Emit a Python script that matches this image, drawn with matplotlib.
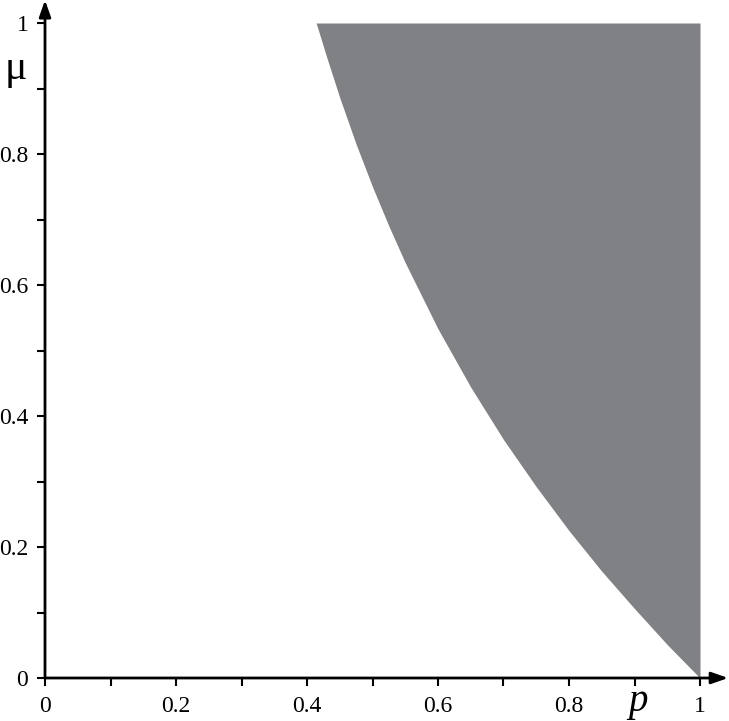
import numpy as np
import matplotlib
matplotlib.use("Agg")
import matplotlib.pyplot as plt

# ==========================================
# DATA (boundary of shaded region)
# ==========================================

p_curve = [0.414, 0.43, 0.45, 0.475, 0.5, 0.525, 0.55, 0.6, 0.65, 0.7,
           0.75, 0.8, 0.85, 0.9, 0.95, 1.0]
mu_curve = [1.0, 0.948, 0.886, 0.815, 0.75, 0.690, 0.634, 0.533, 0.444, 0.364,
            0.292, 0.225, 0.163, 0.106, 0.051, 0.0]

major_ticks = [0, 0.2, 0.4, 0.6, 0.8, 1]
tick_labels = ["0", "0.2", "0.4", "0.6", "0.8", "1"]
minor_ticks = [0.1, 0.3, 0.5, 0.7, 0.9]

shade_color = "#808185"

# ==========================================
# PLOT
# ==========================================

plt.rcParams['font.family'] = ['Liberation Serif', 'DejaVu Serif']

fig = plt.figure(figsize=(7.29, 7.21), dpi=100)
ax = fig.add_axes([45 / 729, 43 / 721, 655 / 729, 655 / 721])

# shaded region right of the curve
ax.fill_betweenx(mu_curve, p_curve, [1.0] * len(p_curve),
                 color=shade_color, linewidth=0)

ax.set_xlim(0, 1)
ax.set_ylim(0, 1)

for s in ax.spines.values():
    s.set_visible(False)

# axes with arrows
arrow = dict(arrowstyle='-|>,head_length=1.0,head_width=0.35',
             color='black', lw=2, shrinkA=0, shrinkB=0)
ax.annotate('', xy=(1.043, 0), xytext=(0, 0), arrowprops=arrow,
            annotation_clip=False)
ax.annotate('', xy=(0, 1.035), xytext=(0, 0), arrowprops=arrow,
            annotation_clip=False)

ax.set_xticks(major_ticks)
ax.set_xticklabels(tick_labels)
ax.set_yticks(major_ticks)
ax.set_yticklabels(tick_labels)
ax.set_xticks(minor_ticks, minor=True)
ax.set_yticks(minor_ticks, minor=True)

ax.tick_params(which='both', direction='out', length=6, width=1.5,
               labelsize=17)
ax.tick_params(axis='x', which='major', pad=7)
ax.tick_params(axis='y', which='major', pad=6)

# axis labels
ax.text(-0.045, 0.93, "\u03bc", fontsize=30, ha='center', va='center',
        transform=ax.transAxes)
ax.text(0.905, -0.036, "p", fontsize=28, style='italic', ha='center',
        va='center', transform=ax.transAxes)

fig.savefig("out.png", dpi=100)
